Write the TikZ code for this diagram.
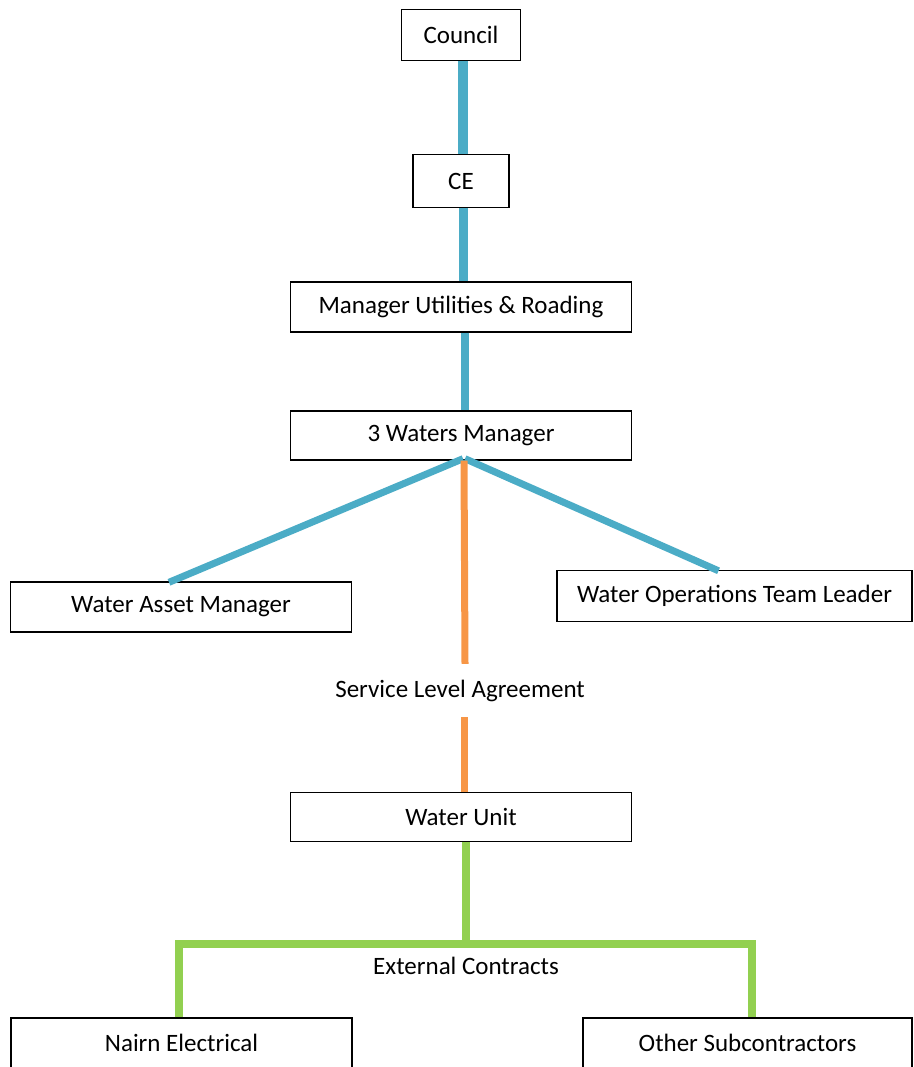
\documentclass[tikz,border=0pt]{standalone}
\usepackage{fontspec}
\setmainfont{Carlito}
\usetikzlibrary{positioning}

\definecolor{lineblue}{HTML}{4BACC6}
\definecolor{lineorange}{HTML}{F79646}
\definecolor{linegreen}{HTML}{92D050}

\begin{document}
\begin{tikzpicture}[x=1pt,y=-1pt,
    box/.style={shape=rectangle,draw=black,line width=1.4pt,fill=white,inner sep=0pt,
      minimum width=341pt,minimum height=50pt,font=\fontsize{25}{29}\selectfont},
    lbl/.style={inner sep=0pt,font=\fontsize{25}{29}\selectfont}]
      \useasboundingbox (0,0) rectangle (913,1067);
      \node[box,minimum width=119pt,minimum height=51pt] (council) at (461,35) {Council};
      \node[box,minimum width=96pt,minimum height=53pt] (ce) at (461,181) {CE};
      \node[box] (mur) at (461,307) {Manager Utilities \& Roading};
      \node[box,minimum height=49pt] (threew) at (461,435.5) {3 Waters Manager};
      \node[box] (wam) at (181,607) {Water Asset Manager};
      \node[box,minimum width=355pt,minimum height=51pt] (wotl) at (734.5,596) {Water Operations Team Leader};
      \node[lbl,minimum height=53pt] (sla) at (460,690.5) {Service Level Agreement};
      \node[box,minimum height=49pt] (wu) at (461,817) {Water Unit};
      \node[lbl] (ext) at (466,966) {External Contracts};
      \node[box] (nairn) at (181.5,1043) {Nairn Electrical};
      \node[box,minimum width=329pt] (other) at (747.5,1043) {Other Subcontractors};
      \coordinate (split) at (466,944);
      \path[draw, lineblue]
      ([xshift=2pt]council.south) edge[line width=10pt] ([xshift=2pt]ce.north)
      ([xshift=2pt]ce.south) edge[line width=9pt] ([xshift=2pt]mur.north)
      ([xshift=4pt]mur.south) edge[line width=8pt] ([xshift=4pt]threew.north)
      ([xshift=2pt,yshift=2pt]threew.south) edge[line width=7pt] ([xshift=-12pt,yshift=-1pt]wam.north)
      ([xshift=4pt,yshift=2pt]threew.south) edge[line width=7pt] ([xshift=-16pt,yshift=-1pt]wotl.north);
      \path[draw, lineorange, line width=7pt]
      ([xshift=3pt]threew.south) edge ([xshift=5pt]sla.north)
      ([xshift=4pt]sla.south) edge ([xshift=3pt]wu.north);
      \draw[linegreen, line width=7.5pt]
      ([xshift=5pt]wu.south) -- (split);
      \draw[linegreen, line width=7.5pt]
      ([xshift=-2.5pt]nairn.north) |- (split) -| ([xshift=4.5pt]other.north);
    \end{tikzpicture}
\end{document}
